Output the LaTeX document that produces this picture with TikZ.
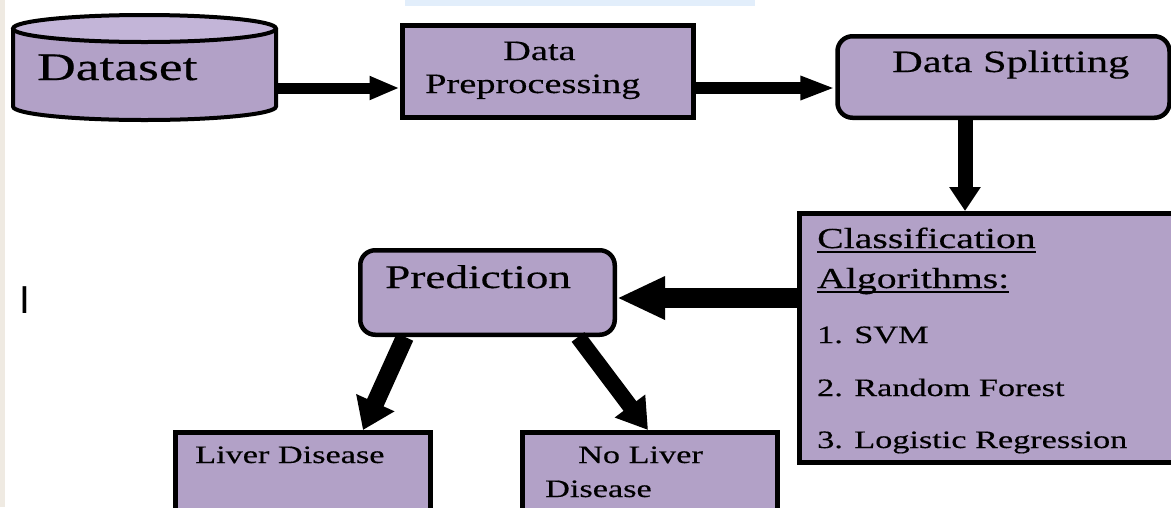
\documentclass[tikz,border=0pt]{standalone}
\usepackage{fontspec}
\setmainfont{Liberation Serif}
\newfontfamily\tf[FakeStretch=1.37,FakeBold=0.4]{Liberation Serif}
\newfontfamily\arialf{Liberation Sans}
\usetikzlibrary{arrows.meta}
\definecolor{lav}{HTML}{B2A1C7}
\definecolor{lavtop}{HTML}{C3B5D8}
\definecolor{edgebeige}{HTML}{EFEAE2}
\definecolor{topblue}{HTML}{E2EEFB}
\newcommand\fsz[1]{\fontsize{#1}{#1}\selectfont}
\begin{document}
\begin{tikzpicture}[x=1pt,y=-1pt,
  box/.style={draw, line width=5pt, fill=lav, inner sep=0pt},
  rbox/.style={box, line width=4.5pt, rounded corners=15pt},
  txt/.style={inner sep=0pt, anchor=base west},
  arr/.style n args={3}{line width=#1, -{Triangle[length=#2, width=#3]}},
]
\useasboundingbox (0,0) rectangle (1171,507);
\fill[white] (0,0) rectangle (1171,507);
\fill[topblue] (405,0) rectangle (755,6);
\fill[edgebeige] (0,0) rectangle (5,507);

% Dataset cylinder
\filldraw[fill=lav, line width=4pt] (13,28.5) -- (13,106.5)
  arc[start angle=180, end angle=360, x radius=131.5pt, y radius=13.5pt] -- (276,28.5);
\filldraw[fill=lavtop, line width=4pt] (144.5,28.5) ellipse[x radius=131.5pt, y radius=13.5pt];
\node[inner sep=0pt, minimum width=263pt, minimum height=105pt] (ds) at (144.5,67.5) {};
\node[txt, font=\tf\fsz{39}] (dst) at (37,80) {Dataset};

% Boxes
\node[box, minimum width=291pt, minimum height=92pt] (pre) at (547.5,71.5) {};
\node[txt, font=\tf\fsz{28}] (pre1) at (503,60) {Data};
\node[txt, font=\tf\fsz{28}] (pre2) at (425,93) {Preprocessing};

\node[rbox, minimum width=332pt, minimum height=81.5pt] (split) at (1003.5,77) {};
\node[txt, font=\tf\fsz{31}] (splitt) at (892,72) {Data Splitting};

\node[box, minimum width=383pt, minimum height=249pt] (cls) at (991,338) {};
\node[txt, font=\tf\fsz{29}] (c1) at (817,248) {Classification};
\node[txt, font=\tf\fsz{29}] (c2) at (817,288) {Algorithms:};
\draw[line width=1.8pt] ([yshift=-4pt]c1.base west) -- ([yshift=-4pt]c1.base east);
\draw[line width=1.8pt] ([yshift=-4pt]c2.base west) -- ([yshift=-4pt]c2.base east);
\node[txt, font=\tf\fsz{25}] (c3) at (817,343) {1. SVM};
\node[txt, font=\tf\fsz{25}] (c4) at (817,396) {2. Random Forest};
\node[txt, font=\tf\fsz{25}] (c5) at (817,448) {3. Logistic Regression};

\node[rbox, minimum width=254.5pt, minimum height=84.5pt] (pred) at (487.5,292.5) {};
\node[txt, font=\tf\fsz{33}] (predt) at (385,288) {Prediction};

\node[box, minimum width=255pt, minimum height=95pt] (liv) at (303,480) {};
\node[txt, font=\tf\fsz{25}] (livt) at (195,463) {Liver Disease};

\node[box, minimum width=255pt, minimum height=95pt] (noliv) at (650,480) {};
\node[txt, font=\tf\fsz{25}] (noliv1) at (578,463) {No Liver};
\node[txt, font=\tf\fsz{25}] (noliv2) at (545,497) {Disease};

\node[inner sep=0pt, anchor=base, font=\arialf\fsz{39}] (cur) at (25,313) {I};

% Arrows
\draw[arr={11pt}{30pt}{22pt}] ([yshift=-20.5pt]ds.east) -- ([yshift=-16.5pt]pre.west);
\draw[arr={12pt}{35pt}{22pt}] ([yshift=-16.5pt]pre.east) -- ([yshift=-11pt]split.west);
\draw[arr={15pt}{24pt}{30pt}] ([xshift=-38.5pt]split.south) -- ([xshift=-26pt]cls.north);
\draw[arr={20pt}{48pt}{40pt}] ([yshift=40pt]cls.west) -- ([yshift=-5.5pt]pred.east);
\draw[arr={18pt}{30pt}{40pt}] ([xshift=-82.5pt]pred.south) -- ([xshift=60pt]liv.north);
\draw[arr={16pt}{30pt}{36pt}] ([xshift=90.5pt]pred.south) -- ([xshift=-2pt]noliv.north);
\end{tikzpicture}
\end{document}
